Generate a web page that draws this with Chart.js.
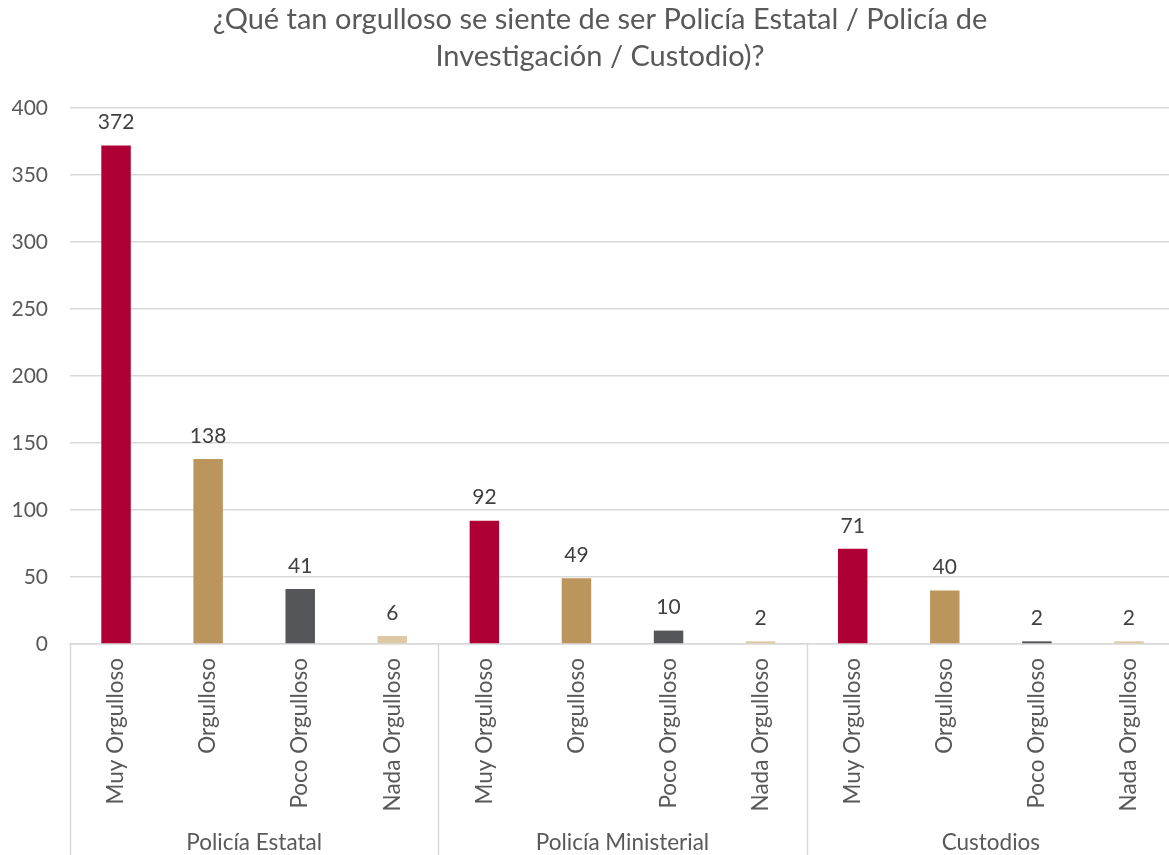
<!DOCTYPE html>
<html>
<head>
<meta charset="utf-8">
<script src="https://cdn.jsdelivr.net/npm/chart.js@4/dist/chart.umd.min.js"></script>
<style>
html,body{margin:0;padding:0;background:#fff;overflow:hidden;}
#wrap{position:relative;width:1175px;height:855px;}
</style>
</head>
<body>
<div id="wrap"><canvas id="c"></canvas></div>
<script>
const titleLines = ["¿Qué tan orgulloso se siente de ser Policía Estatal / Policía de", "Investigación / Custodio)?"];
const groups = ["Policía Estatal", "Policía Ministerial", "Custodios"];
const levels = ["Muy Orgulloso", "Orgulloso", "Poco Orgulloso", "Nada Orgulloso"];
const policiaEstatal = [372, 138, 41, 6];
const policiaMinisterial = [92, 49, 10, 2];
const custodios = [71, 40, 2, 2];
const levelColors = ["#AE0035", "#BC955C", "#54565A", "#DDC9A3"];
const yTicks = [0, 50, 100, 150, 200, 250, 300, 350, 400];

const FONT = "Lato, 'Open Sans', sans-serif";
const labels = [];
const values = [];
const colors = [];
[policiaEstatal, policiaMinisterial, custodios].forEach(arr => {
  arr.forEach((v, i) => { labels.push(levels[i]); values.push(v); colors.push(levelColors[i]); });
});

const overlay = {
  id: 'overlay',
  afterDraw(chart) {
    const ctx = chart.ctx;
    const ca = chart.chartArea;
    const meta = chart.getDatasetMeta(0);
    ctx.save();
    // title
    ctx.fillStyle = '#595959';
    ctx.font = '29px ' + FONT;
    ctx.textAlign = 'center';
    ctx.textBaseline = 'middle';
    ctx.fillText(titleLines[0], 600, 20);
    ctx.fillText(titleLines[1], 600, 57);
    // data labels
    ctx.fillStyle = '#404040';
    ctx.font = '21px ' + FONT;
    meta.data.forEach((bar, i) => {
      ctx.fillText(String(values[i]), bar.x, bar.y - 23);
    });
    // group separators and labels
    const n = labels.length;
    const step = (ca.right - ca.left) / n;
    ctx.strokeStyle = '#d9d9d9';
    ctx.lineWidth = 1.5;
    for (let g = 0; g <= groups.length; g++) {
      const x = Math.round(ca.left + g * 4 * step) + 0.5;
      ctx.beginPath();
      ctx.moveTo(x, ca.bottom);
      ctx.lineTo(x, chart.height);
      ctx.stroke();
    }
    ctx.fillStyle = '#595959';
    ctx.font = '22.5px ' + FONT;
    groups.forEach((g, k) => {
      const cx = ca.left + (k * 4 + 2) * step;
      ctx.fillText(g, cx, 843);
    });
    ctx.restore();
  }
};

new Chart(document.getElementById('c'), {
  type: 'bar',
  data: {
    labels: labels,
    datasets: [{ data: values, backgroundColor: colors, barPercentage: 0.8, categoryPercentage: 0.4 }]
  },
  options: {
    responsive: true,
    maintainAspectRatio: false,
    animation: false,
    layout: { padding: { top: 108, right: 0, left: 0, bottom: 0 } },
    plugins: { legend: { display: false }, tooltip: { enabled: false }, title: { display: false } },
    scales: {
      x: {
        grid: { display: false, drawTicks: false },
        border: { display: true, color: '#d9d9d9', width: 1.5 },
        ticks: {
          color: '#595959', font: { family: FONT, size: 22.5 },
          maxRotation: 90, minRotation: 90, padding: 14, autoSkip: false
        },
        afterFit(s) { s.height = 211; }
      },
      y: {
        min: 0, max: 400,
        afterBuildTicks(s) { s.ticks = yTicks.map(v => ({ value: v })); },
        grid: { color: '#d9d9d9', lineWidth: 1.5, drawTicks: false },
        border: { display: false },
        ticks: { color: '#595959', font: { family: FONT, size: 21 }, padding: 22 },
        afterFit(s) { s.width = 70; }
      }
    }
  },
  plugins: [overlay]
});
</script>
</body>
</html>
